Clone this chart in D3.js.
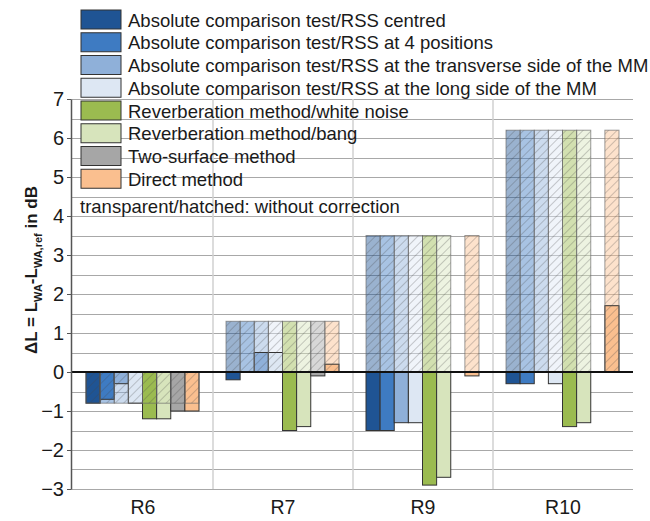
<!DOCTYPE html>
<html lang="en">
<head>
<meta charset="UTF-8">
<title>Sound power deviation</title>
<script src="https://cdnjs.cloudflare.com/ajax/libs/d3/7.8.5/d3.min.js"></script>
<style>
  body { margin: 0; background: #fff; }
  svg text { font-family: "Liberation Sans", Arial, sans-serif; fill: #1a1a1a; }
</style>
</head>
<body>
<div id="chart"></div>
<script>
// categories and series
const categories = ["R6", "R7", "R9", "R10"];
const seriesNames = [
  "Absolute comparison test/RSS centred",
  "Absolute comparison test/RSS at 4 positions",
  "Absolute comparison test/RSS at the transverse side of the MM",
  "Absolute comparison test/RSS at the long side of the MM",
  "Reverberation method/white noise",
  "Reverberation method/bang",
  "Two-surface method",
  "Direct method"
];
const seriesColors = ["#1f5494", "#3e7bc2", "#8fb0d9", "#dde7f3", "#9bbb50", "#d7e4bc", "#a6a6a6", "#fabf8f"];

// with correction (solid bars), one value per category
const withCorrection = [
  [-0.8, -0.2, -1.5, -0.3],
  [-0.7, 0.0, -1.5, -0.3],
  [-0.3, 0.5, -1.3, 0.0],
  [-0.8, 0.5, -1.3, -0.3],
  [-1.2, -1.5, -2.9, -1.4],
  [-1.2, -1.4, -2.7, -1.3],
  [-1.0, -0.1, null, null],
  [-1.0, 0.2, -0.1, 1.7]
];
// without correction (transparent/hatched bars)
const withoutCorrection = [
  [-0.8, 1.3, 3.5, 6.2],
  [-0.8, 1.3, 3.5, 6.2],
  [-0.8, 1.3, 3.5, 6.2],
  [-0.8, 1.3, 3.5, 6.2],
  [-0.8, 1.3, 3.5, 6.2],
  [-0.8, 1.3, 3.5, 6.2],
  [-0.8, 1.3, null, null],
  [-0.8, 1.3, 3.5, 6.2]
];
const yTicks = [-3, -2, -1, 0, 1, 2, 3, 4, 5, 6, 7];
const noteText = "transparent/hatched: without correction";

const width = 650, height = 521;
const svg = d3.select("#chart").append("svg")
  .attr("width", width).attr("height", height);

const x = d3.scaleBand().domain(categories).range([73, 633]);
const slot = d3.scaleBand().domain(d3.range(seriesNames.length)).range([13, 126]);
const y = d3.scaleLinear().domain([-3, 7]).range([489, 99]);

// hatch pattern
svg.append("defs").append("pattern")
  .attr("id", "hatch")
  .attr("patternUnits", "userSpaceOnUse")
  .attr("width", 6).attr("height", 6)
  .attr("patternTransform", "rotate(45)")
  .append("line")
  .attr("x1", 0).attr("y1", 0).attr("x2", 0).attr("y2", 6)
  .attr("stroke", "#444").attr("stroke-width", 0.7).attr("stroke-opacity", 0.75);

// grid
const halfTicks = d3.range(-3, 7.01, 0.5).filter(v => v !== 0);
svg.append("g").selectAll("line").data(halfTicks).join("line")
  .attr("x1", 71).attr("x2", 633)
  .attr("y1", d => Math.round(y(d)) + 0.5).attr("y2", d => Math.round(y(d)) + 0.5)
  .attr("stroke", "#a8a8a8").attr("stroke-width", 1);

svg.append("g").selectAll("line").data(categories.slice(1)).join("line")
  .attr("x1", d => x(d)).attr("x2", d => x(d))
  .attr("y1", y(7)).attr("y2", y(-3))
  .attr("stroke", "#d0d0d0").attr("stroke-width", 1.5);

// bars
function bars(values) {
  const out = [];
  values.forEach((vals, s) => vals.forEach((v, c) => {
    if (v !== null) out.push({ s, c, v });
  }));
  return out;
}
const bx = d => x(categories[d.c]) + slot(d.s);
const by = d => y(Math.max(0, d.v));
const bh = d => Math.abs(y(d.v) - y(0));

const uncorr = bars(withoutCorrection);
const corr = bars(withCorrection);

svg.append("g").selectAll("rect").data(uncorr).join("rect")
  .attr("x", bx).attr("y", by).attr("width", slot.bandwidth()).attr("height", bh)
  .attr("fill", d => seriesColors[d.s]).attr("fill-opacity", 0.45);

svg.append("g").selectAll("rect").data(corr.filter(d => d.v !== 0)).join("rect")
  .attr("x", bx).attr("y", by).attr("width", slot.bandwidth()).attr("height", bh)
  .attr("fill", d => seriesColors[d.s])
  .attr("stroke", "#333").attr("stroke-width", 1);

svg.append("g").selectAll("rect").data(uncorr).join("rect")
  .attr("x", bx).attr("y", by).attr("width", slot.bandwidth()).attr("height", bh)
  .attr("fill", "url(#hatch)")
  .attr("stroke", "#666").attr("stroke-opacity", 0.65).attr("stroke-width", 1);

// zero line
svg.append("line")
  .attr("x1", 71).attr("x2", 633).attr("y1", y(0)).attr("y2", y(0))
  .attr("stroke", "#111").attr("stroke-width", 2);

// y axis
const yAxis = svg.append("g").attr("transform", "translate(71,0)")
  .call(d3.axisLeft(y).tickValues(yTicks).tickSize(4).tickSizeOuter(0).tickPadding(3));
yAxis.select(".domain").attr("stroke", "#555").attr("stroke-width", 1.5);
yAxis.selectAll(".tick line").attr("stroke", "#555");
yAxis.selectAll("text").attr("font-size", 20).attr("fill", "#1a1a1a")
  .attr("font-family", "Liberation Sans, Arial, sans-serif");

// category labels
svg.append("g").selectAll("text").data(categories).join("text")
  .attr("x", d => x(d) + x.bandwidth() / 2).attr("y", 514)
  .attr("text-anchor", "middle").attr("font-size", 19.5)
  .text(d => d);

// axis title
const title = svg.append("text")
  .attr("transform", "translate(37,270) rotate(-90)")
  .attr("text-anchor", "middle").attr("font-size", 17).attr("font-weight", "bold");
title.append("tspan").text("ΔL = L");
title.append("tspan").attr("font-size", 11).attr("dy", 5).text("WA");
title.append("tspan").attr("dy", -5).text("-L");
title.append("tspan").attr("font-size", 11).attr("dy", 5).text("WA,ref");
title.append("tspan").attr("dy", -5).text(" in dB");

// legend
const legend = svg.append("g").selectAll("g").data(seriesNames).join("g")
  .attr("transform", (d, i) => `translate(81,${10 + i * 22.75})`);
legend.append("rect")
  .attr("width", 40).attr("height", 19)
  .attr("fill", (d, i) => seriesColors[i])
  .attr("stroke", "#333").attr("stroke-width", 1);
legend.append("text")
  .attr("x", 47).attr("y", 16.5).attr("font-size", 18.5)
  .text(d => d);

svg.append("text")
  .attr("x", 80).attr("y", 212.5).attr("font-size", 18.5)
  .text(noteText);
</script>
</body>
</html>
